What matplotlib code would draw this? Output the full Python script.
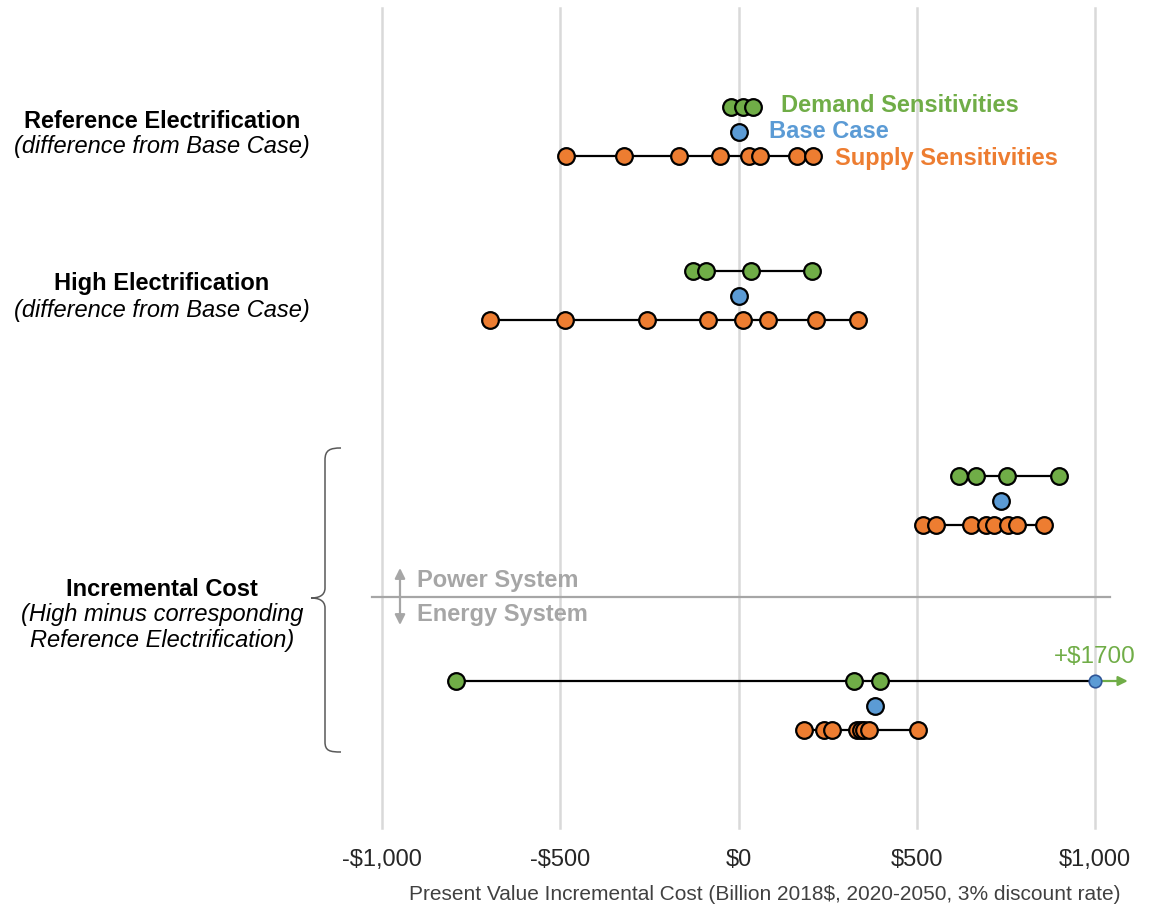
import matplotlib
matplotlib.use("Agg")
import matplotlib.pyplot as plt
from matplotlib.path import Path
from matplotlib.patches import PathPatch

plt.rcParams['font.family'] = ['Liberation Sans', 'DejaVu Sans']

# ---------------- data ----------------
groups = ["Reference Electrification", "High Electrification",
          "Incremental Power System", "Incremental Energy System"]
demand = [
    [-22, 12, 42],
    [-127, -90, 34, 207],
    [618, 665, 752, 898],
    [-792, 324, 396],
]
base = [0, 0, 735, 383]
supply = [
    [-485, -320, -168, -53, 30, 59, 165, 210],
    [-698, -487, -256, -86, 12, 83, 216, 335],
    [518, 555, 651, 693, 718, 756, 782, 858],
    [185, 240, 262, 332, 345, 352, 365, 503],
]
# energy-system demand high case beyond the axis
overflow_value = 1700
xticks = [-1000, -500, 0, 500, 1000]
xticklabels = ["-$1,000", "-$500", "$0", "$500", "$1,000"]

GREEN = "#70AD47"
BLUE = "#5B9BD5"
ORANGE = "#ED7D31"
GRAY = "#A6A6A6"
FS = 17

W, H = 1159, 909
fig = plt.figure(figsize=(W / 100, H / 100), dpi=100)

# axes spanning the plot region in pixel terms
x0, x1 = 382, 1095
ytop, ybot = 8, 828
ax = fig.add_axes([x0 / W, 1 - ybot / H, (x1 - x0) / W, (ybot - ytop) / H])
ax.set_xlim(-1000, 1000)
ax.set_ylim(ybot, ytop)  # y in pixel-like layout units
for s in ax.spines.values():
    s.set_visible(False)
ax.set_yticks([])
ax.set_xticks(xticks)
ax.set_xticklabels(xticklabels, fontsize=FS, color="#262626")
ax.tick_params(axis="x", length=0, pad=15)
for xv in xticks:
    ax.axvline(xv, color="#D9D9D9", lw=1.8, zorder=0, clip_on=False)

group_centers = [132, 296, 501, 706]
offset = 25
ms = 12
mew = 1.6

def draw_row(vals, y, color):
    xmin, xmax = min(vals), max(vals)
    ax.plot([xmin, xmax], [y, y], color="black", lw=1.6, zorder=2, clip_on=False)
    ax.plot(vals, [y] * len(vals), "o", ms=ms, mfc=color, mec="black", mew=mew,
            zorder=3, clip_on=False, ls="none")

for i, yc in enumerate(group_centers):
    yd = yc - offset
    ys = yc + 24
    if i == 3:
        vals = demand[i]
        ax.plot([min(vals), 1000], [yd, yd], color="black", lw=1.6, zorder=2, clip_on=False)
        ax.plot(vals, [yd] * len(vals), "o", ms=ms, mfc=GREEN, mec="black", mew=mew,
                zorder=3, clip_on=False, ls="none")
        ax.annotate("", xy=(1092, yd), xytext=(1000, yd),
                    arrowprops=dict(arrowstyle="-|>", color=GREEN, lw=1.6,
                                    mutation_scale=14, shrinkA=0, shrinkB=0),
                    annotation_clip=False, zorder=3)
        ax.plot([1000], [yd], "o", ms=9, mfc=BLUE, mec="#2F5597", mew=1.2,
                zorder=4, clip_on=False)
        ax.text(1000, yd - 13, f"+${overflow_value}", color=GREEN, fontsize=FS + 0.5,
                ha="center", va="bottom")
    else:
        draw_row(demand[i], yd, GREEN)
    ax.plot([base[i]], [yc], "o", ms=ms, mfc=BLUE, mec="black", mew=mew,
            zorder=3, clip_on=False)
    draw_row(supply[i], ys, ORANGE)

# legend-like labels
ax.text(120, 106, "Demand Sensitivities", color=GREEN, fontsize=FS,
        fontweight="bold", va="center", ha="left")
ax.text(85, 132, "Base Case", color=BLUE, fontsize=FS,
        fontweight="bold", va="center", ha="left")
ax.text(272, 158, "Supply Sensitivities", color=ORANGE, fontsize=FS,
        fontweight="bold", va="center", ha="left")

# separator between power and energy system
sep_y = 597
xl = -1000 - 10 / 0.3565
xr = 1000 + 15 / 0.3565
ax.plot([xl, xr], [sep_y, sep_y], color=GRAY, lw=1.6, clip_on=False, zorder=1)
xa = -1000 + 18 / 0.3565
ax.annotate("", xy=(xa, 568), xytext=(xa, sep_y),
            arrowprops=dict(arrowstyle="-|>", color=GRAY, lw=1.6, mutation_scale=15,
                            shrinkA=0, shrinkB=0), annotation_clip=False)
ax.annotate("", xy=(xa, 625), xytext=(xa, sep_y),
            arrowprops=dict(arrowstyle="-|>", color=GRAY, lw=1.6, mutation_scale=15,
                            shrinkA=0, shrinkB=0), annotation_clip=False)
xt = -1000 + 35 / 0.3565
ax.text(xt, 580, "Power System", color=GRAY, fontsize=FS, fontweight="bold",
        va="center", ha="left")
ax.text(xt, 615, "Energy System", color=GRAY, fontsize=FS, fontweight="bold",
        va="center", ha="left")

# left-hand labels
def ftext(px, py, s, **kw):
    fig.text(px / W, 1 - py / H, s, ha="center", va="center", fontsize=FS, **kw)

ftext(162, 121, "Reference Electrification", fontweight="bold")
ftext(162, 147, "(difference from Base Case)", style="italic")
ftext(162, 284, "High Electrification", fontweight="bold")
ftext(162, 310, "(difference from Base Case)", style="italic")
ftext(162, 589, "Incremental Cost", fontweight="bold")
ftext(162, 615, "(High minus corresponding", style="italic")
ftext(162, 641, "Reference Electrification)", style="italic")

# curly brace
def P(px, py):
    return (px / W, 1 - py / H)
verts = [P(341, 448), P(330, 448), P(325, 450), P(325, 460),
         P(325, 588),
         P(325, 596), P(318, 598), P(311, 598),
         P(318, 598), P(325, 600), P(325, 608),
         P(325, 742),
         P(325, 751), P(330, 752), P(341, 752)]
codes = [Path.MOVETO, Path.CURVE4, Path.CURVE4, Path.CURVE4,
         Path.LINETO,
         Path.CURVE4, Path.CURVE4, Path.CURVE4,
         Path.CURVE4, Path.CURVE4, Path.CURVE4,
         Path.LINETO,
         Path.CURVE4, Path.CURVE4, Path.CURVE4]
fig.patches.append(PathPatch(Path(verts, codes), transform=fig.transFigure,
                             fill=False, ec="#595959", lw=1.1))

# x-axis title
fig.text(0.66, 1 - 894 / H,
         "Present Value Incremental Cost (Billion 2018$, 2020-2050, 3% discount rate)",
         ha="center", va="center", fontsize=15, color="#404040")

fig.savefig("out.png", dpi=100)
